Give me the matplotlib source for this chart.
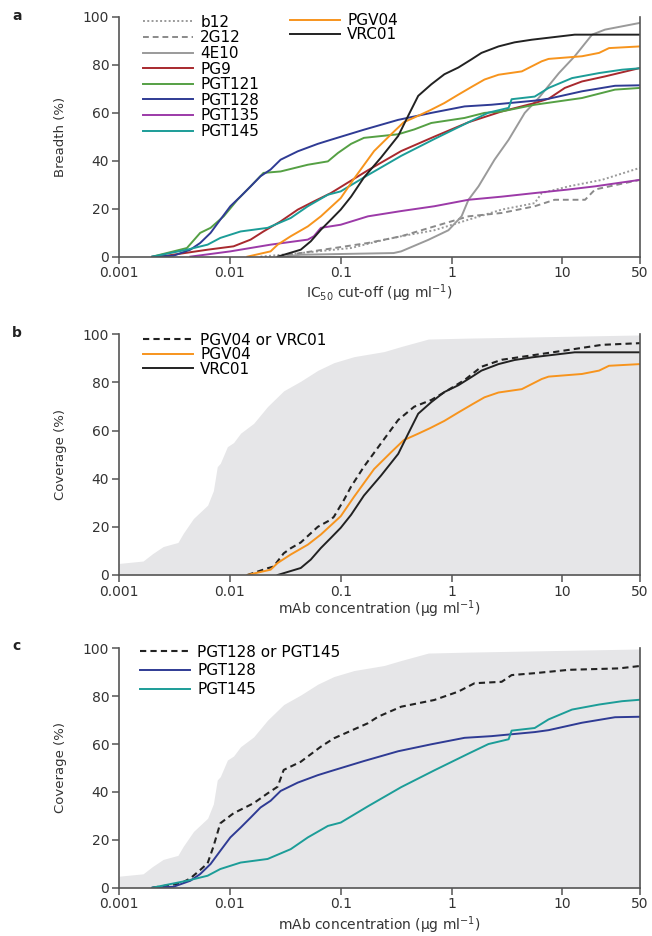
import matplotlib
matplotlib.use("Agg")
import matplotlib.pyplot as plt

# ---- data (concentration in ug/ml, percent) ----
B12_X = [0.0189, 0.0436, 0.124, 0.246, 0.351, 0.698, 1.42, 2.83, 5.62, 6.5, 11.4, 22.7, 50]
B12_Y = [0, 1.5, 3.6, 7, 8.5, 11, 15.4, 19.6, 22.3, 26.5, 29.3, 32, 37]

G12_X = [0.027, 0.0436, 0.176, 0.351, 0.698, 1.42, 2.83, 5.62, 8.5, 16, 19.7, 50]
G12_Y = [0, 1.5, 5.7, 8.5, 12.6, 16.8, 18.2, 21, 23.7, 23.7, 28, 32]

E10_X = [0.03, 0.0436, 0.3, 0.351, 0.617, 0.936, 1.23, 1.42, 1.75, 2.44, 3.27, 4.57,
         6.1, 9.3, 12.9, 18.5, 24.2, 50]
E10_Y = [0, 0.8, 1.5, 2.2, 7, 11, 16.8, 23.7, 29.3, 40.4, 48.7, 59.9,
         66.1, 76.5, 83.5, 92.5, 94.6, 97.4]

PG9_X = [0.00235, 0.0063, 0.0108, 0.0154, 0.0201, 0.0287, 0.041, 0.0572, 0.0815, 0.176,
         0.351, 0.698, 1.42, 2.83, 5.62, 7.5, 10.5, 15, 24.2, 50]
PG9_Y = [0, 2.9, 4.3, 7.1, 10.5, 14.7, 19.6, 23, 26.5, 36,
         44, 50, 56, 60.5, 64, 65.8, 70.3, 73, 75.1, 78.6]

PGT121_X = [0.002, 0.0031, 0.0041, 0.0054, 0.0067, 0.0088, 0.0117, 0.0154, 0.0201, 0.0287,
            0.0505, 0.0766, 0.0944, 0.124, 0.162, 0.33, 0.46, 0.656, 1.31, 1.98, 2.83,
            5.62, 15, 29.8, 50]
PGT121_Y = [0, 2.2, 3.6, 9.9, 12, 16.8, 23.7, 29.3, 34.9, 35.5,
            38.3, 39.7, 43.2, 47, 49.5, 51, 53, 55.7, 57.8, 59.9, 60.5,
            63.3, 66.1, 69.6, 70.3]

PGT128_X = [0.002, 0.0031, 0.0044, 0.0054, 0.0067, 0.0082, 0.0101, 0.0125, 0.0154, 0.0189,
            0.0233, 0.0287, 0.041, 0.0621, 0.0815, 0.162, 0.33, 0.656, 1.31, 2.29, 5.62,
            7.5, 15, 29.8, 50]
PGT128_Y = [0, 0.4, 2.9, 5.7, 9.9, 15.4, 21, 25.1, 29.3, 33.5,
            36.3, 40.4, 43.9, 47, 48.7, 52.9, 57, 59.9, 62.6, 63.3, 65,
            65.8, 68.9, 71.2, 71.4]

PGT135_X = [0.0044, 0.0101, 0.0233, 0.0505, 0.0572, 0.0662, 0.1, 0.176, 0.351, 0.698,
            1.42, 2.83, 5.62, 11.4, 19.7, 50]
PGT135_Y = [0, 2.2, 5, 7.1, 8.5, 12, 13.3, 16.8, 19, 21,
            23.7, 25, 26.5, 28, 29.3, 32]

PGT145_X = [0.002, 0.0041, 0.0063, 0.0082, 0.0125, 0.0219, 0.0354, 0.0505, 0.0766, 0.1,
            0.176, 0.351, 0.698, 1.42, 2.15, 3.27, 3.48, 5.62, 7.5, 12.2, 21.4, 34.5, 50]
PGT145_Y = [0, 2.9, 5, 7.8, 10.5, 12, 16.1, 21, 25.8, 27.2,
            34, 42, 49, 56, 60, 62, 65.6, 66.7, 70.3, 74.4, 76.5, 77.9, 78.5]

PGV04_X = [0.0144, 0.0233, 0.027, 0.0354, 0.0505, 0.0662, 0.1, 0.132, 0.2, 0.285, 0.37,
           0.5, 0.64, 0.86, 1.15, 1.55, 1.98, 2.65, 4.3, 6.5, 7.5, 15, 21.4, 26.3, 50]
PGV04_Y = [0, 2.2, 5, 8.5, 12.6, 16.8, 24.4, 32.5, 44, 51, 56,
           58.7, 61, 64, 67.5, 71, 73.8, 75.8, 77.2, 81.4, 82.4, 83.5, 84.9, 86.9, 87.6]

VRC01_X = [0.027, 0.0436, 0.0537, 0.0662, 0.0815, 0.1, 0.124, 0.162, 0.231, 0.33, 0.406,
           0.5, 0.656, 0.861, 1.15, 1.51, 1.86, 2.65, 3.7, 5.3, 12.9, 50]
VRC01_Y = [0, 2.9, 6.4, 11.2, 15.4, 19.6, 25, 33, 41.3, 50.3, 58.7,
           67, 71.8, 76, 78.8, 82.2, 84.9, 87.6, 89.3, 90.4, 92.5, 92.5]

# PGV04 or VRC01 (panel b)
COMB_B_X = [0.0144, 0.0219, 0.0248, 0.0306, 0.0354, 0.0436, 0.0621, 0.0815, 0.0868, 0.107,
            0.124, 0.162, 0.231, 0.33, 0.46, 0.656, 0.936, 1.31, 1.86, 2.83, 5.62, 11.4,
            22.7, 50]
COMB_B_Y = [0, 2.8, 3.5, 9, 11.1, 13.5, 20, 23, 24.2, 31.2,
            36.7, 45, 54.7, 64.4, 69.9, 72.7, 76.9, 81, 86.5, 89.4, 91.4, 93.5,
            95.6, 96.3]

# PGT128 or PGT145 (panel c)
COMB_C_X = [0.002, 0.0036, 0.0044, 0.0054, 0.0063, 0.0071, 0.0082, 0.0108, 0.0164, 0.0219,
            0.027, 0.0306, 0.0436, 0.0662, 0.0868, 0.176, 0.217, 0.351, 0.698, 1.15, 1.61,
            2.83, 3.48, 5.62, 11.4, 32.4, 50]
COMB_C_Y = [0, 1.8, 3.9, 7.4, 10.2, 17.1, 26.9, 31.1, 35.3, 39.4,
            42.2, 49.2, 52.6, 58.9, 62.4, 68.7, 71.4, 75.6, 78.4, 81.9, 85.4,
            86, 88.8, 89.6, 91, 91.6, 92.6]

# best coverage of any single mAb (grey background in b and c)
FILL_X = [0.001, 0.00165, 0.002, 0.0025, 0.0031, 0.0034, 0.0038, 0.0047, 0.0063, 0.0071,
          0.0077, 0.0082, 0.0095, 0.0108, 0.0125, 0.0164, 0.0219, 0.0306, 0.0436, 0.0621,
          0.0868, 0.132, 0.246, 0.351, 0.617, 1.42, 50]
FILL_Y = [4.8, 5.8, 8.8, 11.8, 13, 13.5, 17.3, 23.5, 29, 35,
          45, 46.4, 53.3, 55, 58.9, 63, 70, 76.5, 80.5, 85,
          88.2, 90.7, 92.8, 94.9, 98, 98.4, 99.7]

XTICKS = [0.001, 0.01, 0.1, 1, 10, 50]
XTICKLABELS = ["0.001", "0.01", "0.1", "1", "10", "50"]
YTICKS = [0, 20, 40, 60, 80, 100]

C_GREY = "#9a9a9a"
C_PG9 = "#a8292e"
C_121 = "#55a044"
C_128 = "#2f3b94"
C_135 = "#9c3aa8"
C_145 = "#1c9d98"
C_PGV = "#f7941d"
C_VRC = "#222222"
AX_C = "#555555"
TXT_C = "#333333"
LW = 1.4

plt.rcParams["font.family"] = "DejaVu Sans"

fig = plt.figure(figsize=(6.52, 9.36), dpi=100)
left, width = 0.1825, 0.799
ax_a = fig.add_axes([left, 0.7258, width, 0.2564])
ax_b = fig.add_axes([left, 0.3857, width, 0.2572])
ax_c = fig.add_axes([left, 0.0516, width, 0.2558])


def style_axes(ax, ylabel, xlabel, xlab_y):
    ax.set_xscale("log")
    ax.set_xlim(0.001, 50)
    ax.set_ylim(0, 100)
    ax.set_xticks(XTICKS)
    ax.set_xticklabels(XTICKLABELS)
    ax.minorticks_off()
    ax.set_yticks(YTICKS)
    ax.tick_params(direction="out", length=5, width=1.1, color=AX_C,
                   labelsize=10, labelcolor=TXT_C, pad=2)
    ax.spines["top"].set_visible(False)
    for s in ("left", "bottom", "right"):
        ax.spines[s].set_color(AX_C)
        ax.spines[s].set_linewidth(1.2)
    ax.set_facecolor("none")
    ax.set_ylabel(ylabel, fontsize=9.5, color=TXT_C)
    ax.yaxis.label.set_verticalalignment("center")
    ax.yaxis.set_label_coords(-0.113, 0.5)
    ax.set_xlabel(xlabel, fontsize=10, color=TXT_C)
    ax.xaxis.label.set_verticalalignment("center")
    ax.xaxis.set_label_coords(0.5, xlab_y)


# ---- panel a ----
ax = ax_a
ax.plot(B12_X, B12_Y, color=C_GREY, lw=LW, ls=(0, (1, 1.2)), label="b12")
ax.plot(G12_X, G12_Y, color="#8a8a8a", lw=LW, ls=(0, (3, 2)), label="2G12")
ax.plot(E10_X, E10_Y, color=C_GREY, lw=LW, label="4E10")
ax.plot(PG9_X, PG9_Y, color=C_PG9, lw=LW, label="PG9")
ax.plot(PGT121_X, PGT121_Y, color=C_121, lw=LW, label="PGT121")
ax.plot(PGT128_X, PGT128_Y, color=C_128, lw=LW, label="PGT128")
ax.plot(PGT135_X, PGT135_Y, color=C_135, lw=LW, label="PGT135")
ax.plot(PGT145_X, PGT145_Y, color=C_145, lw=LW, label="PGT145")
ax.plot(PGV04_X, PGV04_Y, color=C_PGV, lw=LW, label="PGV04")
ax.plot(VRC01_X, VRC01_Y, color=C_VRC, lw=LW, label="VRC01")
style_axes(ax, "Breadth (%)", r"IC$_{50}$ cut-off (µg ml$^{-1}$)", -0.153)

handles, labels = ax.get_legend_handles_labels()
leg_kw = dict(frameon=False, fontsize=11, handlelength=3.3, handletextpad=0.45,
              borderpad=0, borderaxespad=0, loc="upper left")
leg1 = ax.legend(handles[:8], labels[:8], bbox_to_anchor=(0.046, 1.008),
                 labelspacing=0.04, **leg_kw)
ax.add_artist(leg1)
ax.legend(handles[8:], labels[8:], bbox_to_anchor=(0.328, 1.015),
          labelspacing=-0.06, **leg_kw)

# ---- panel b ----
ax = ax_b
ax.fill_between(FILL_X, 0, FILL_Y, color="#e6e6e8", lw=0, zorder=0)
ax.plot(COMB_B_X, COMB_B_Y, color=C_VRC, lw=1.5, ls=(0, (3, 2)), label="PGV04 or VRC01")
ax.plot(PGV04_X, PGV04_Y, color=C_PGV, lw=LW, label="PGV04")
ax.plot(VRC01_X, VRC01_Y, color=C_VRC, lw=LW, label="VRC01")
style_axes(ax, "Coverage (%)", "mAb concentration (µg ml$^{-1}$)", -0.143)
ax.legend(bbox_to_anchor=(0.046, 1.006), labelspacing=-0.04, **leg_kw)

# ---- panel c ----
ax = ax_c
ax.fill_between(FILL_X, 0, FILL_Y, color="#e6e6e8", lw=0, zorder=0)
ax.plot(COMB_C_X, COMB_C_Y, color=C_VRC, lw=1.5, ls=(0, (3, 2)), label="PGT128 or PGT145")
ax.plot(PGT128_X, PGT128_Y, color=C_128, lw=LW, label="PGT128")
ax.plot(PGT145_X, PGT145_Y, color=C_145, lw=LW, label="PGT145")
style_axes(ax, "Coverage (%)", "mAb concentration (µg ml$^{-1}$)", -0.155)
ax.legend(bbox_to_anchor=(0.04, 1.015), labelspacing=0.24, **leg_kw)

# panel letters
for letter, ypx in (("a", 16.5), ("b", 333), ("c", 646)):
    fig.text(12 / 652, 1 - ypx / 936, letter, fontsize=10, fontweight="bold",
             color="#222222", va="center", ha="left")

fig.savefig("out.png", dpi=100)
